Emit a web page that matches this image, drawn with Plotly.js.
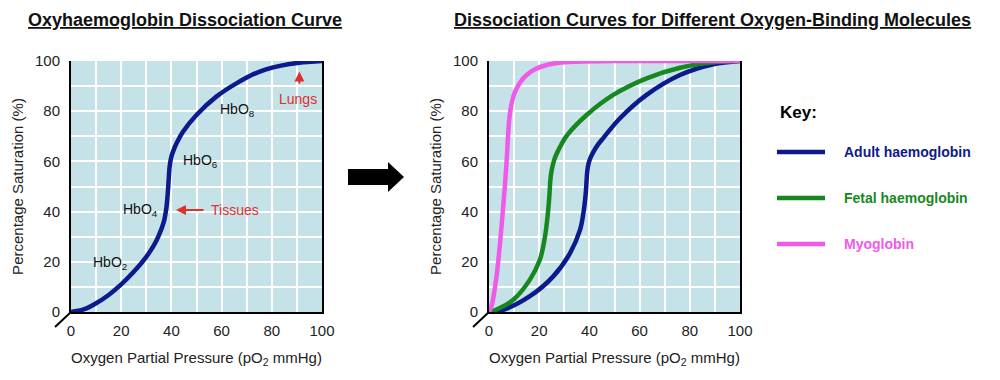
<!DOCTYPE html>
<html><head><meta charset="utf-8">
<script src="https://cdn.plot.ly/plotly-3.0.1.min.js"></script>
<style>html,body{margin:0;padding:0;background:#fff}#chart{width:1000px;height:380px}</style>
</head><body><div id="chart"></div>
<script>
// ---- data ----
const tickVals = [0, 20, 40, 60, 80, 100];
const tickText = ['0', '20', '40', '60', '80', '100'];

// Left panel: adult haemoglobin
const adultP = [0, 5, 10, 15, 20, 25, 30, 33, 35, 37, 38, 38.6, 39, 39.3, 39.9, 40.8, 42.2, 44.6, 50, 57.9, 65.9, 75.2, 87.1, 100];
const adultS = [0, 1, 3.5, 6.8, 11, 16, 22, 26.5, 30.5, 36, 41.5, 48, 54, 58, 61.5, 64.3, 67.5, 71.8, 78.5, 85.8, 91.1, 95.8, 98.8, 100];

// Right panel
const adult2P = [0, 5.7, 16.3, 25.6, 32.3, 36.3, 37.8, 38.6, 38.9, 39.2, 39.7, 40.5, 41.6, 43.2, 45.6, 52.2, 62.8, 76.1, 89.4, 100];
const adult2S = [0, 0.9, 6.3, 14.2, 23.5, 32.8, 40.8, 48, 52.8, 56.5, 59.3, 61.6, 63.8, 66.4, 69.4, 77.2, 86.5, 94.4, 98.7, 100];
const fetalP = [0, 3, 9.7, 16.3, 20.3, 22.3, 23.6, 24.1, 24.4, 24.8, 25.4, 26.3, 27.8, 31, 38.9, 49.5, 62.8, 76.1, 89.4, 100];
const fetalS = [0, 1, 4.9, 12.9, 20.9, 30, 40.8, 47, 52, 55.5, 58.5, 61.5, 64.8, 70.3, 78.5, 86.5, 93.1, 97.3, 99.5, 100];
const myoP = [0, 1, 3, 5, 6.8, 8.1, 9.2, 10.4, 12.5, 15, 18.5, 23, 28, 33.6, 50, 100];
const myoS = [0, 2.3, 14.2, 34.2, 56.8, 77, 84, 87.8, 91.6, 94.4, 96.8, 98.4, 99.3, 99.7, 100, 100];

const seriesNames = ['Adult haemoglobin', 'Fetal haemoglobin', 'Myoglobin'];
const seriesColors = ['#0d1a8c', '#17881f', '#ef5ae8'];

const titles = ['Oxyhaemoglobin Dissociation Curve', 'Dissociation Curves for Different Oxygen-Binding Molecules'];
const xTitle = 'Oxygen Partial Pressure (pO<sub>2</sub> mmHg)';
const yTitle = 'Percentage Saturation (%)';
const keyTitle = 'Key:';

const hbLabels = ['HbO<sub>2</sub>', 'HbO<sub>4</sub>', 'HbO<sub>6</sub>', 'HbO<sub>8</sub>'];
const hbLabelP = [15.5, 27.5, 51.4, 66.5];
const hbLabelS = [19.5, 40.6, 60, 80.5];

const siteLabels = ['Tissues', 'Lungs'];
const siteLabelP = [65.3, 90.5];
const siteLabelS = [40.6, 85];
const siteArrowFromP = [53.4, 91];
const siteArrowFromS = [40.6, 90.4];
const siteArrowToP = [41.8, 91];
const siteArrowToS = [40.6, 95.8];

// ---- layout helpers ----
const W = 1000, H = 380;
const fx = x => x / W;
const fy = y => 1 - y / H;
const FONT = 'Liberation Sans, Arial, sans-serif';
const RED = '#e0302c';

function axis(domain, anchor, isY) {
  return {
    domain: domain, anchor: anchor, range: [0, 100],
    tickvals: tickVals, ticktext: tickText,
    showgrid: true, gridcolor: '#ffffff', gridwidth: 2,
    minor: {dtick: 10, tick0: 0, showgrid: true, gridcolor: '#ffffff', gridwidth: 2},
    zeroline: false, showline: true, linecolor: '#000', linewidth: 2,
    mirror: isY ? true : false,
    ticks: '', ticklabelstandoff: isY ? 6 : 4,
    tickfont: {family: FONT, size: 15, color: '#222'},
    fixedrange: true,
    title: isY
      ? {text: yTitle, font: {family: FONT, size: 15, color: '#222'}, standoff: 8}
      : {text: xTitle, font: {family: FONT, size: 15, color: '#222'}, standoff: 14}
  };
}

const yDom = [fy(312), fy(61)];
const layout = {
  width: W, height: H,
  margin: {l: 0, r: 0, t: 0, b: 0},
  paper_bgcolor: '#ffffff', plot_bgcolor: '#c4e2e8',
  showlegend: false,
  xaxis: axis([fx(71), fx(322)], 'y', false),
  yaxis: axis(yDom, 'x', true),
  xaxis2: axis([fx(489), fx(740)], 'y2', false),
  yaxis2: axis(yDom, 'x2', true),
  annotations: [], shapes: []
};

// Titles
[[184.5, titles[0]], [712, titles[1]]].forEach(([cx, t]) => {
  layout.annotations.push({
    xref: 'paper', yref: 'paper', x: fx(cx), y: fy(20), xanchor: 'center', yanchor: 'middle',
    text: '<b>' + t + '</b>', showarrow: false,
    font: {family: FONT, size: 18, color: '#111', lineposition: 'under'}
  });
});

// HbO labels
hbLabels.forEach((t, i) => layout.annotations.push({
  xref: 'x', yref: 'y', x: hbLabelP[i], y: hbLabelS[i], text: t, showarrow: false,
  font: {family: FONT, size: 14, color: '#111'}
}));
// Tissues / Lungs
siteLabels.forEach((t, i) => {
  layout.annotations.push({
    xref: 'x', yref: 'y', x: siteLabelP[i], y: siteLabelS[i], text: t, showarrow: false,
    font: {family: FONT, size: 14, color: RED}
  });
  layout.annotations.push({
    xref: 'x', yref: 'y', axref: 'x', ayref: 'y',
    x: siteArrowToP[i], y: siteArrowToS[i], ax: siteArrowFromP[i], ay: siteArrowFromS[i],
    text: '', showarrow: true, arrowhead: 2, arrowsize: 1, arrowwidth: 2, arrowcolor: RED
  });
});

// Origin break marks
[71, 489].forEach(ox => layout.shapes.push({
  type: 'line', xref: 'paper', yref: 'paper',
  x0: fx(ox), y0: fy(312), x1: fx(ox - 16), y1: fy(327),
  line: {color: '#000', width: 2}
}));

// Big black arrow between panels
const arrowPts = [[348, 169], [388, 169], [388, 162], [404, 177], [388, 192], [388, 185], [348, 185]];
layout.shapes.push({
  type: 'path', xref: 'paper', yref: 'paper',
  path: 'M' + arrowPts.map(p => fx(p[0]) + ',' + fy(p[1])).join(' L') + ' Z',
  fillcolor: '#000', line: {color: '#000', width: 0}
});

// Key
layout.annotations.push({
  xref: 'paper', yref: 'paper', x: fx(778), y: fy(113), xanchor: 'left', yanchor: 'middle',
  text: '<b>' + keyTitle + '</b>', showarrow: false,
  font: {family: FONT, size: 17, color: '#000'}
});
seriesNames.forEach((n, i) => {
  const yy = 152 + i * 46;
  layout.shapes.push({
    type: 'line', xref: 'paper', yref: 'paper',
    x0: fx(777), x1: fx(825), y0: fy(yy), y1: fy(yy),
    line: {color: seriesColors[i], width: 4.5}
  });
  layout.annotations.push({
    xref: 'paper', yref: 'paper', x: fx(842), y: fy(yy), xanchor: 'left', yanchor: 'middle',
    text: '<b>' + n + '</b>', showarrow: false,
    font: {family: FONT, size: 14, color: seriesColors[i]}
  });
});

const line = (c) => ({color: c, width: 4.5, shape: 'spline', smoothing: 1});
const data = [
  {x: adultP, y: adultS, xaxis: 'x', yaxis: 'y', mode: 'lines', line: line(seriesColors[0]), name: seriesNames[0], cliponaxis: false},
  {x: adult2P, y: adult2S, xaxis: 'x2', yaxis: 'y2', mode: 'lines', line: line(seriesColors[0]), name: seriesNames[0], cliponaxis: false},
  {x: fetalP, y: fetalS, xaxis: 'x2', yaxis: 'y2', mode: 'lines', line: line(seriesColors[1]), name: seriesNames[1], cliponaxis: false},
  {x: myoP, y: myoS, xaxis: 'x2', yaxis: 'y2', mode: 'lines', line: line(seriesColors[2]), name: seriesNames[2], cliponaxis: false}
];

Plotly.newPlot('chart', data, layout, {staticPlot: true, displayModeBar: false});
</script>
</body></html>
